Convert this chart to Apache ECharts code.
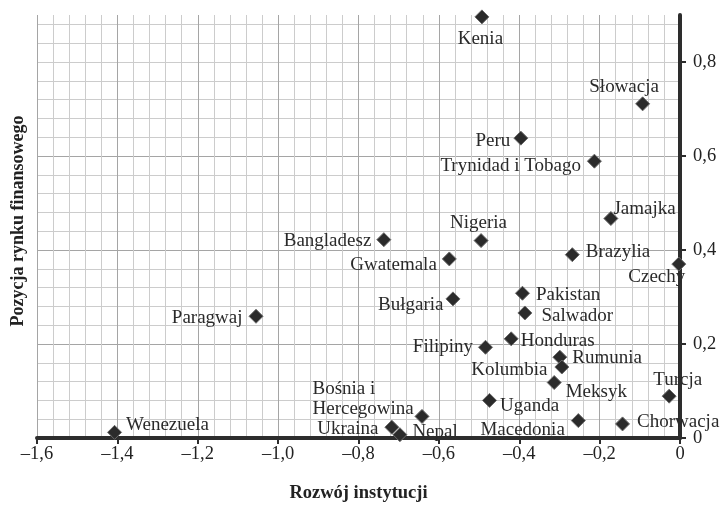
<!DOCTYPE html>
<html>
<head>
<meta charset="utf-8">
<script src="https://cdn.jsdelivr.net/npm/echarts@6/dist/echarts.min.js"></script>
<style>
html,body{margin:0;padding:0;background:#fff;}
#chart{width:724px;height:505px;}
</style>
</head>
<body>
<div id="chart"></div>
<script>
// ---- data ----
const countries = ['Kenia','Słowacja','Peru','Trynidad i Tobago','Jamajka','Nigeria','Bangladesz','Brazylia','Gwatemala','Czechy','Pakistan','Bułgaria','Paragwaj','Salwador','Honduras','Filipiny','Rumunia','Kolumbia','Meksyk','Turcja','Uganda','Bośnia i\nHercegowina','Macedonia','Chorwacja','Ukraina','Nepal','Wenezuela'];
const instytucje = [-0.493,-0.093,-0.396,-0.213,-0.172,-0.495,-0.737,-0.268,-0.574,-0.003,-0.392,-0.565,-1.055,-0.386,-0.420,-0.484,-0.299,-0.294,-0.313,-0.027,-0.474,-0.642,-0.253,-0.143,-0.717,-0.697,-1.407];
const rynek = [0.896,0.711,0.638,0.589,0.467,0.420,0.422,0.390,0.381,0.370,0.308,0.296,0.259,0.266,0.211,0.193,0.172,0.151,0.118,0.089,0.080,0.046,0.037,0.030,0.023,0.007,0.012];
const xTicks = [-1.6,-1.4,-1.2,-1.0,-0.8,-0.6,-0.4,-0.2,0];
const yTicks = [0,0.2,0.4,0.6,0.8];
const xTitle = 'Rozwój instytucji';
const yTitle = 'Pozycja rynku finansowego';

// ---- label placement (align, dx, dy from marker centre) ----
const labelAlign = ['center','center','right','right','left','center','right','left','right','right','left','right','right','left','left','right','left','right','left','center','left','left','right','left','right','left','left'];
const labelDx = [-1,-18,-10,-13,3,-2,-12,14,-12,7,14,-9,-13,17,10,-12,13,-14,12,9,11,-109,-13,15,-13,13,12];
const labelDy = [21,-18,1,3,-11,-19,0,-4,5,11,0,5,0,1.5,1,-2,-0.6,1.4,8,-18,4,-19,7.6,-3.7,0.6,-4,-9];

const SYM = 14;
const BASE_SHIFT = 2;
const fmt = v => {
  if (Math.abs(v) < 1e-9) return '0';
  return (v < 0 ? '\u2013' : '') + Math.abs(v).toFixed(1).replace('.', ',');
};
const serif = '"Liberation Serif","Times New Roman",serif';

const points = countries.map((name, i) => ({
  name: name,
  value: [instytucje[i], rynek[i]],
  label: {
    show: true,
    formatter: name,
    position: [labelDx[i] + SYM / 2, labelDy[i] + SYM / 2 + BASE_SHIFT],
    align: labelAlign[i],
    verticalAlign: 'middle'
  }
}));

const chart = echarts.init(document.getElementById('chart'), null, {renderer: 'canvas'});
chart.setOption({
  animation: false,
  backgroundColor: '#ffffff',
  grid: {left: 37, right: 44, top: 15, bottom: 67, containLabel: false, outerBoundsMode: 'none'},
  xAxis: [
    {
      type: 'value', min: -1.6, max: 0, interval: 0.04,
      axisLine: {show: false}, axisTick: {show: false}, axisLabel: {show: false},
      splitLine: {show: true, lineStyle: {color: '#cccccc', width: 1}}
    },
    {
      type: 'value', min: xTicks[0], max: xTicks[xTicks.length - 1], interval: 0.2,
      position: 'bottom',
      axisLine: {show: true, onZero: true, lineStyle: {color: '#2d2d2d', width: 4}},
      axisTick: {show: true, length: 6, lineStyle: {color: '#2d2d2d', width: 2}},
      axisLabel: {show: true, formatter: fmt, margin: 7, color: '#222', fontFamily: serif, fontSize: 18.5},
      splitLine: {show: true, lineStyle: {color: '#a5a5a5', width: 1}},
      name: xTitle, nameLocation: 'middle', nameGap: 46,
      nameTextStyle: {fontFamily: serif, fontWeight: 'bold', fontSize: 18.5, color: '#222'}
    }
  ],
  yAxis: [
    {
      type: 'value', min: 0, max: 0.9, interval: 0.04,
      axisLine: {show: false}, axisTick: {show: false}, axisLabel: {show: false},
      splitLine: {show: true, showMaxLine: false, lineStyle: {color: '#cccccc', width: 1}}
    },
    {
      type: 'value', min: 0, max: 0.9, interval: 0.2,
      position: 'right',
      axisLine: {show: true, onZero: false, lineStyle: {color: '#2d2d2d', width: 4}},
      axisTick: {show: true, length: 6, customValues: yTicks, lineStyle: {color: '#2d2d2d', width: 2}},
      axisLabel: {show: true, formatter: fmt, margin: 13, customValues: yTicks,
                  color: '#222', fontFamily: serif, fontSize: 18.5},
      splitLine: {show: true, showMaxLine: false, lineStyle: {color: '#a5a5a5', width: 1}}
    }
  ],
  graphic: [{
    type: 'text',
    x: 18, y: 221,
    rotation: Math.PI / 2,
    style: {
      text: yTitle, fill: '#222',
      font: 'bold 18px ' + serif,
      align: 'center', verticalAlign: 'middle'
    }
  }],
  series: [{
    type: 'scatter',
    xAxisIndex: 1, yAxisIndex: 1,
    symbol: 'diamond',
    symbolSize: SYM,
    clip: false,
    itemStyle: {color: '#2b2b2b', borderColor: '#6a6a6a', borderWidth: 1, opacity: 1},
    label: {fontFamily: serif, fontSize: 19, color: '#2a2a2a', lineHeight: 20.5},
    emphasis: {disabled: true},
    data: points
  }]
});
</script>
</body>
</html>
